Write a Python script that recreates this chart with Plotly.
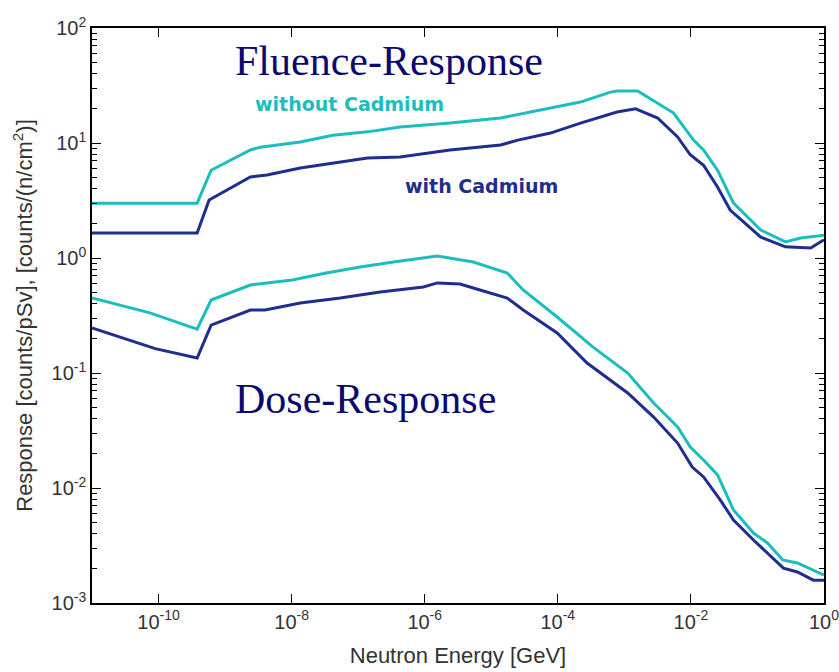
import plotly.graph_objects as go

# ---- data (energy in GeV, response) ----
fl_noCd_E = [1e-11, 10**-9.42, 10**-9.21, 10**-8.62, 10**-8.47, 10**-7.87, 10**-7.38, 10**-6.86,
             10**-6.37, 10**-5.62, 10**-4.86, 10**-4.11, 10**-3.66, 10**-3.21, 10**-3.11, 10**-2.80,
             10**-2.26, 10**-1.96, 10**-1.81, 10**-1.60, 10**-1.36, 10**-0.95, 10**-0.58, 10**-0.35, 1.0]
fl_noCd_R = [3.0, 3.0, 5.8, 8.7, 9.2, 10.2, 11.7, 12.5,
             13.8, 14.9, 16.5, 20.1, 22.7, 27.7, 28.3, 28.3,
             18.2, 10.6, 8.7, 5.8, 3.0, 1.75, 1.38, 1.49, 1.58]

fl_Cd_E = [1e-11, 10**-9.42, 10**-9.24, 10**-8.62, 10**-8.37, 10**-7.87, 10**-6.86, 10**-6.37,
           10**-5.62, 10**-4.86, 10**-4.60, 10**-4.11, 10**-3.66, 10**-3.11, 10**-2.83, 10**-2.50,
           10**-2.20, 10**-2.01, 10**-1.81, 10**-1.60, 10**-1.41, 10**-0.95, 10**-0.58, 10**-0.20, 1.0]
fl_Cd_R = [1.65, 1.65, 3.19, 5.06, 5.27, 6.07, 7.4, 7.55,
           8.7, 9.6, 10.6, 12.2, 14.9, 18.6, 19.8, 16.5,
           11.3, 7.9, 6.4, 4.14, 2.61, 1.52, 1.25, 1.22, 1.44]

dose_noCd_E = [1e-11, 10**-10.13, 10**-9.42, 10**-9.21, 10**-8.62, 10**-7.99, 10**-7.48, 10**-6.97,
               10**-6.47, 10**-5.97, 10**-5.81, 10**-5.27, 10**-4.76, 10**-4.52, 10**-4.01, 10**-3.47,
               10**-2.95, 10**-2.56, 10**-2.20, 10**-2.01, 10**-1.81, 10**-1.60, 10**-1.36, 10**-1.06,
               10**-0.85, 10**-0.62, 10**-0.40, 1.0]
dose_noCd_R = [0.449, 0.333, 0.241, 0.431, 0.582, 0.644, 0.741, 0.836,
               0.923, 1.0, 1.04, 0.923, 0.741, 0.527, 0.307, 0.168,
               0.1, 0.0548, 0.0339, 0.0227, 0.0175, 0.0130, 0.00644, 0.00406,
               0.00333, 0.00237, 0.00223, 0.00175]

dose_Cd_E = [1e-11, 10**-10.3, 10**-10.05, 10**-9.42, 10**-9.21, 10**-8.62, 10**-8.40, 10**-7.87,
             10**-7.27, 10**-6.67, 10**-6.02, 10**-5.81, 10**-5.47, 10**-5.27, 10**-4.76, 10**-4.52,
             10**-4.01, 10**-3.56, 10**-2.95, 10**-2.56, 10**-2.20, 10**-1.98, 10**-1.81, 10**-1.56,
             10**-1.36, 10**-1.06, 10**-0.61, 10**-0.40, 10**-0.16, 1.0]
dose_Cd_R = [0.246, 0.182, 0.163, 0.135, 0.261, 0.353, 0.353, 0.406,
             0.449, 0.506, 0.560, 0.607, 0.594, 0.548, 0.449, 0.353,
             0.223, 0.122, 0.067, 0.0414, 0.0246, 0.0152, 0.01248, 0.00787,
             0.00527, 0.00353, 0.00201, 0.00186, 0.00158, 0.00158]

x_tickvals = [1e-10, 1e-8, 1e-6, 1e-4, 1e-2, 1]
x_ticktext = ["10<sup>-10</sup>", "10<sup>-8</sup>", "10<sup>-6</sup>", "10<sup>-4</sup>",
              "10<sup>-2</sup>", "10<sup>0</sup>"]
y_tickvals = [1e-3, 1e-2, 1e-1, 1, 10, 100]
y_ticktext = ["10<sup>-3</sup>", "10<sup>-2</sup>", "10<sup>-1</sup>", "10<sup>0</sup>",
              "10<sup>1</sup>", "10<sup>2</sup>"]

CYAN = "#1cbdbd"
DARK = "#1f2d8f"
NAVY = "#0a0a6e"

fig = go.Figure()
for E, R, c in [(fl_noCd_E, fl_noCd_R, CYAN), (fl_Cd_E, fl_Cd_R, DARK),
                (dose_noCd_E, dose_noCd_R, CYAN), (dose_Cd_E, dose_Cd_R, DARK)]:
    fig.add_trace(go.Scatter(x=E, y=R, mode="lines", line=dict(color=c, width=3),
                             showlegend=False, hoverinfo="skip"))

tickfont = dict(family="Liberation Sans, Arial", size=20, color="#333333")
titlefont = dict(family="Liberation Sans, Arial", size=22, color="#333333")

fig.update_xaxes(type="log", range=[-11, 0], tickvals=x_tickvals, ticktext=x_ticktext,
                 ticks="inside", ticklen=9, tickcolor="black", tickwidth=1,
                 showline=True, linecolor="black", linewidth=1.5, mirror="ticks",
                 gridcolor="white", tickfont=tickfont, ticklabeloverflow="allow",
                 automargin=False,
                 title=dict(text="Neutron Energy [GeV]", font=titlefont, standoff=16))
fig.update_yaxes(type="log", range=[-3, 2], tickvals=y_tickvals, ticktext=y_ticktext,
                 ticks="inside", ticklen=9, tickcolor="black", tickwidth=1,
                 showline=True, linecolor="black", linewidth=1.5, mirror="ticks",
                 gridcolor="white", tickfont=tickfont, automargin=False,
                 minor=dict(ticks="inside", ticklen=5, tickcolor="black", dtick="D1"),
                 title=dict(text="Response [counts/pSv], [counts/(n/cm<sup>2</sup>)]",
                            font=titlefont, standoff=13))
fig.update_layout(width=839, height=672, margin=dict(l=92, r=15, t=28, b=69),
                  plot_bgcolor="white", paper_bgcolor="white", showlegend=False)

ann = [
    dict(text="Fluence-Response", x=0.1926, y=0.9426, font=dict(family="Liberation Serif, Times New Roman", size=42, color=NAVY)),
    dict(text="Dose-Response", x=0.1926, y=0.3548, font=dict(family="Liberation Serif, Times New Roman", size=42, color=NAVY)),
    dict(text="without Cadmium", x=0.22, y=0.8678, font=dict(family="DejaVu Sans", size=19, color=CYAN, weight="bold")),
    dict(text="with Cadmium", x=0.4249, y=0.7252, font=dict(family="DejaVu Sans", size=19, color=DARK, weight="bold")),
]
for a in ann:
    fig.add_annotation(xref="paper", yref="paper", xanchor="left", yanchor="middle",
                       showarrow=False, **a)

fig.write_html("out.html")
